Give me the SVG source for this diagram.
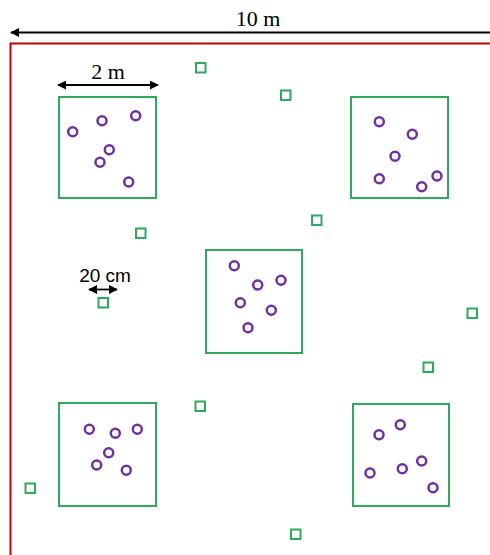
<svg xmlns="http://www.w3.org/2000/svg" width="490" height="555" viewBox="0 0 490 555">
<style>
.plot{fill:none;stroke:#2eaa5c;stroke-width:2}
.sq{fill:none;stroke:#2eaa5c;stroke-width:2}
.p{fill:none;stroke:#7030a0;stroke-width:2.5}
.dim{stroke:#000;stroke-width:1.8;fill:none}
.serif{font-family:"Liberation Serif","Times New Roman",serif;font-size:22px;fill:#000}
.sans{font-family:"Liberation Sans",Arial,sans-serif;font-size:19px;fill:#000}
</style>
<defs>
<marker id="ah" viewBox="0 0 10 10" refX="9" refY="5" markerWidth="5" markerHeight="5" orient="auto-start-reverse" markerUnits="strokeWidth">
<path d="M0,0 L10,5 L0,10 Z" fill="#000"/>
</marker>
</defs>
<rect width="490" height="555" fill="#fff"/>
<g id="border"><path d="M491,43.5 H10.5 V556" fill="none" stroke="#c00000" stroke-width="2"/></g>
<g id="connectors">
<line class="dim" x1="11" y1="32.5" x2="490" y2="32.5" marker-start="url(#ah)"/>
<line class="dim" x1="58" y1="85" x2="158" y2="85" marker-start="url(#ah)" marker-end="url(#ah)"/>
<line class="dim" x1="89" y1="289.5" x2="117" y2="289.5" marker-start="url(#ah)" marker-end="url(#ah)"/>
</g>
<g id="labels">
<text class="serif" x="258" y="26" text-anchor="middle">10 m</text>
<text class="serif" x="108" y="79" text-anchor="middle">2 m</text>
<text class="sans" x="105" y="282" text-anchor="middle">20 cm</text>
</g>
<g id="plot1">
<rect class="plot" x="59" y="97" width="97" height="101"/>
<circle class="p" cx="72.7" cy="131.7" r="4.5"/><circle class="p" cx="102" cy="120.7" r="4.5"/><circle class="p" cx="135.7" cy="115.7" r="4.5"/><circle class="p" cx="109.3" cy="149.7" r="4.5"/><circle class="p" cx="100" cy="162.3" r="4.5"/><circle class="p" cx="128.7" cy="182" r="4.5"/>
</g>
<g id="plot2">
<rect class="plot" x="351" y="97" width="97" height="101"/>
<circle class="p" cx="379.3" cy="121.7" r="4.5"/><circle class="p" cx="412.3" cy="134.3" r="4.5"/><circle class="p" cx="395" cy="156.3" r="4.5"/><circle class="p" cx="379.3" cy="178.7" r="4.5"/><circle class="p" cx="421.7" cy="186.7" r="4.5"/><circle class="p" cx="437" cy="176" r="4.5"/>
</g>
<g id="plot3">
<rect class="plot" x="206" y="250" width="96" height="103"/>
<circle class="p" cx="234.3" cy="265.7" r="4.5"/><circle class="p" cx="257.7" cy="285" r="4.5"/><circle class="p" cx="281" cy="280.3" r="4.5"/><circle class="p" cx="240.3" cy="302.7" r="4.5"/><circle class="p" cx="271.3" cy="310.3" r="4.5"/><circle class="p" cx="248" cy="327.7" r="4.5"/>
</g>
<g id="plot4">
<rect class="plot" x="59" y="403" width="97" height="103"/>
<circle class="p" cx="89.3" cy="429.3" r="4.5"/><circle class="p" cx="115.3" cy="433.3" r="4.5"/><circle class="p" cx="137.3" cy="429.3" r="4.5"/><circle class="p" cx="108.7" cy="452.7" r="4.5"/><circle class="p" cx="96.7" cy="465" r="4.5"/><circle class="p" cx="126.3" cy="470.3" r="4.5"/>
</g>
<g id="plot5">
<rect class="plot" x="353" y="404" width="96" height="102"/>
<circle class="p" cx="379" cy="434.7" r="4.5"/><circle class="p" cx="400.3" cy="424.7" r="4.5"/><circle class="p" cx="370" cy="473" r="4.5"/><circle class="p" cx="402.3" cy="468.7" r="4.5"/><circle class="p" cx="421.7" cy="461" r="4.5"/><circle class="p" cx="433" cy="487.7" r="4.5"/>
</g>
<g id="quadrats">
<rect class="sq" x="196" y="63" width="9.5" height="9.5"/>
<rect class="sq" x="281" y="90.5" width="9.5" height="9.5"/>
<rect class="sq" x="136" y="228.5" width="9.5" height="9.5"/>
<rect class="sq" x="312" y="215.5" width="9.5" height="9.5"/>
<rect class="sq" x="98.5" y="298" width="9.5" height="9.5"/>
<rect class="sq" x="467.5" y="308.5" width="9.5" height="9.5"/>
<rect class="sq" x="423.5" y="362.5" width="9.5" height="9.5"/>
<rect class="sq" x="195.5" y="401.5" width="9.5" height="9.5"/>
<rect class="sq" x="25.5" y="483.5" width="9.5" height="9.5"/>
<rect class="sq" x="291" y="529.5" width="9.5" height="9.5"/>
</g>
</svg>
